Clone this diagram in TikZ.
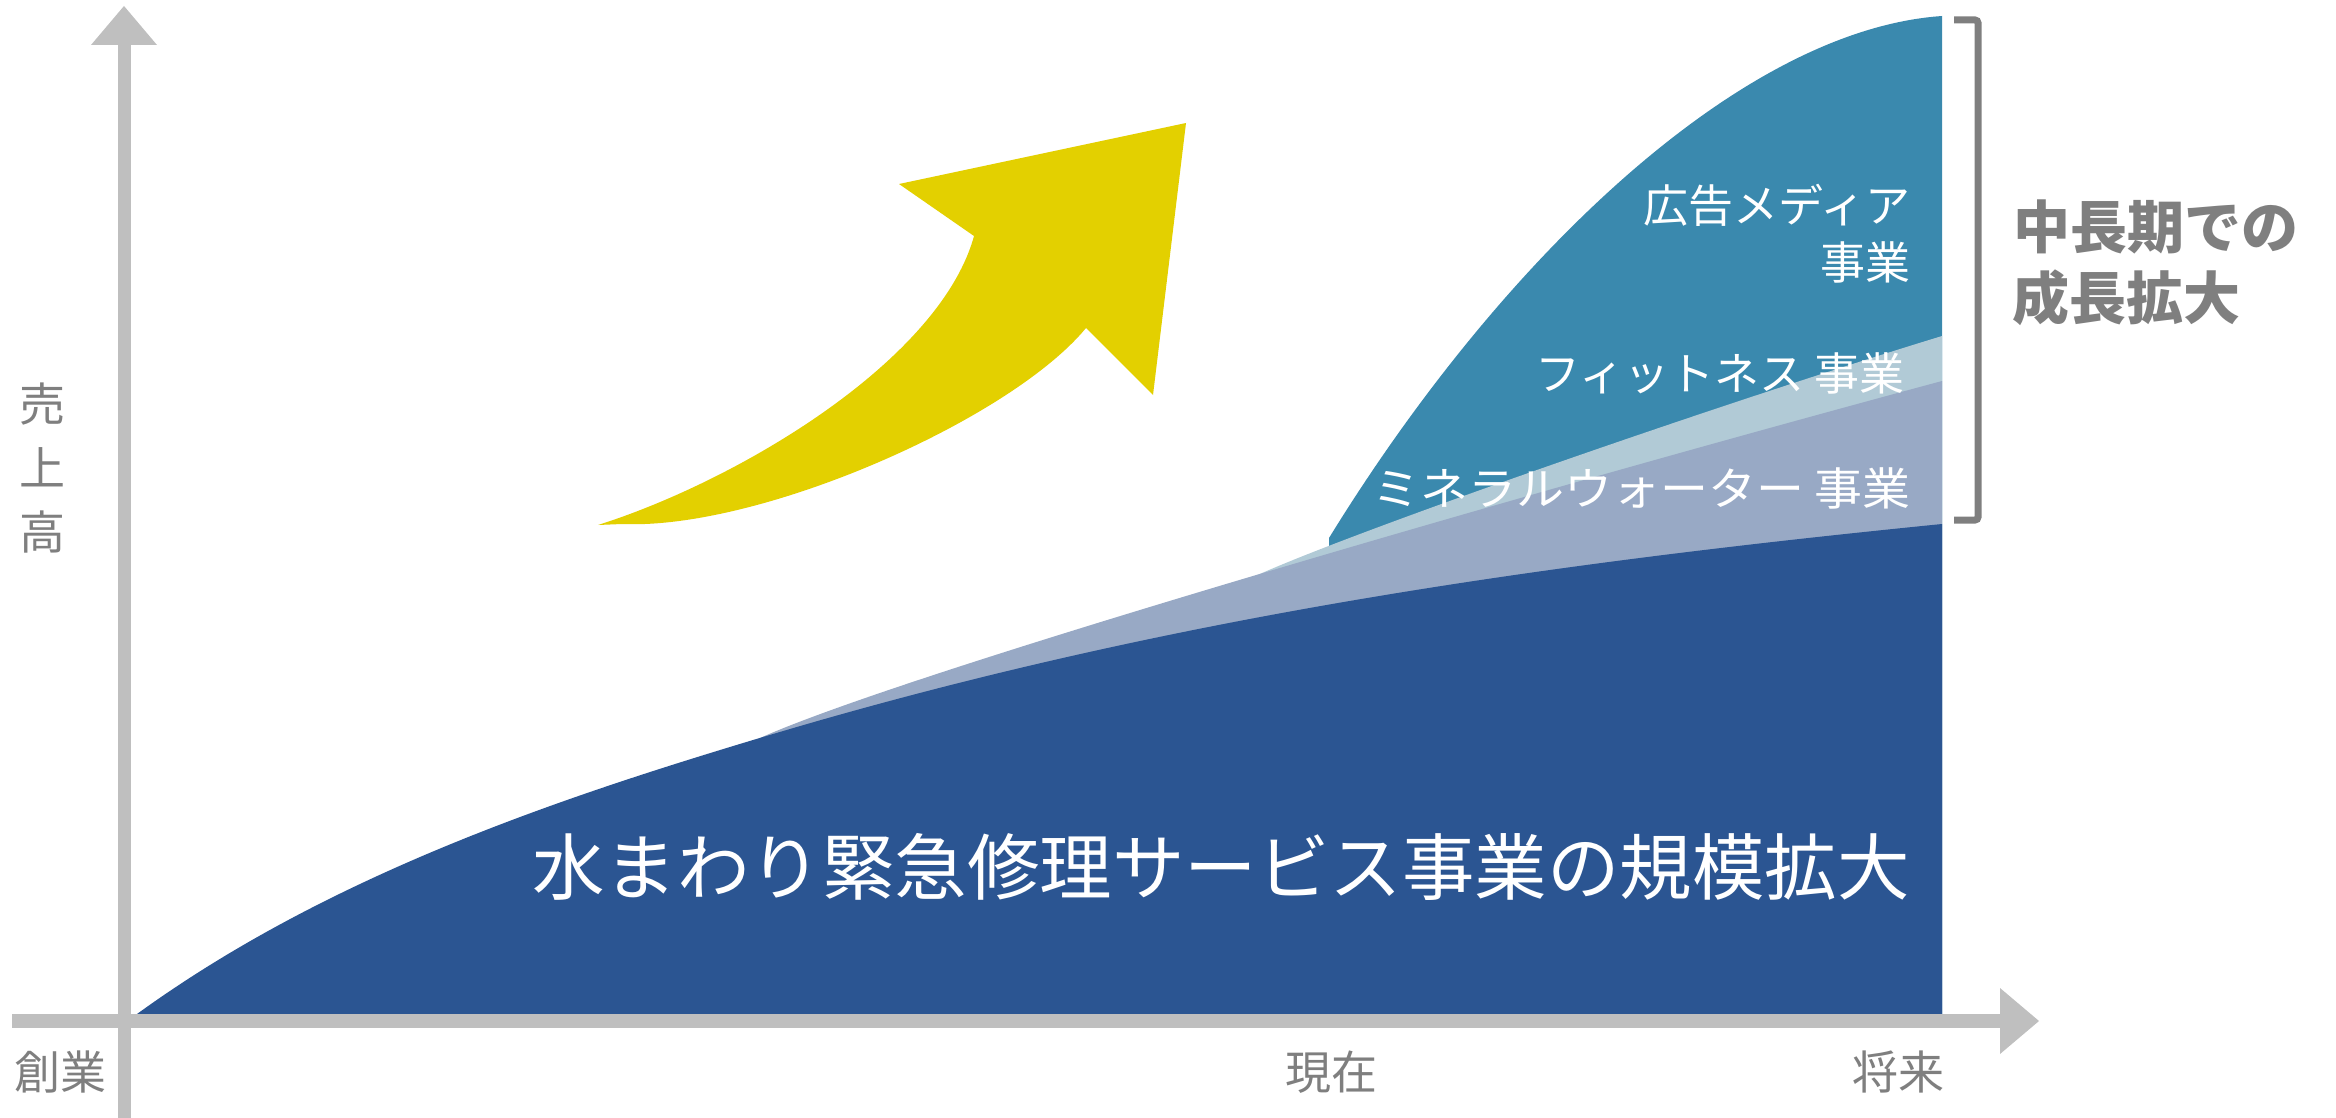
\documentclass[tikz,border=0pt]{standalone}
\usepackage{fontspec}
\newfontfamily\jp{Noto Sans CJK JP}
\newcommand\jpsz[1]{\fontsize{#1}{#1}\selectfont}
\definecolor{darkblue}{HTML}{2B5592}
\definecolor{tealb}{HTML}{3A89AE}
\definecolor{lightb}{HTML}{B1CAD6}
\definecolor{mineralb}{HTML}{98A9C5}
\definecolor{yell}{HTML}{E3D000}
\definecolor{axisg}{HTML}{BFBFBF}
\definecolor{textg}{HTML}{7F7F7F}
\begin{document}
\begin{tikzpicture}[x=1pt,y=-1pt,
  wlabel/.style={inner sep=0pt, text=white, font=\jp\jpsz{45}},
  glabel/.style={inner sep=0pt, text=textg, font=\jp\jpsz{46}},
  blabel/.style={inner sep=0pt, text=textg, font=\jp\bfseries\jpsz{57}}]
\useasboundingbox (0,0) rectangle (2336,1118);
% teal layer
\fill[tealb] (1329,538) .. controls (1500,260) and (1740,30) .. (1942,16)
  -- (1942,1014) -- (1329,1014) -- cycle;
% fitness layer
\fill[lightb] (1249,579) .. controls (1330,540) and (1700,410) .. (1942,336)
  -- (1942,1014) -- (1249,1014) -- cycle;
% mineral layer
\fill[mineralb] (760,738) .. controls (900,675) and (1500,500) .. (1942,381)
  -- (1942,1014) -- (760,1014) -- cycle;
% main layer
\fill[darkblue] (137,1014) .. controls (330,874) and (563,797) .. (763,737)
  .. controls (1163,617) and (1542,564) .. (1942,524)
  -- (1942,1014) -- cycle;
% yellow arrow
\fill[yell] (598,525) .. controls (740,480) and (940,360) .. (974,236)
  -- (899,184) -- (1186,123) -- (1153,395) -- (1086,328)
  .. controls (1010,420) and (760,530) .. (622,524) -- cycle;
% axes
\draw[axisg, line width=13pt] (124,1118) -- (124,44);
\fill[axisg] (91,45) -- (157,45) -- (124,6) -- cycle;
\draw[axisg, line width=14pt] (12,1021) -- (2001,1021);
\fill[axisg] (2000,988) -- (2000,1054) -- (2039,1021) -- cycle;
% bracket
\draw[textg, line width=7pt, rounded corners=3pt] (1954,20) -- (1978,20) -- (1978,520) -- (1954,520);
% texts
\node[inner sep=0pt, text=white, font=\jp\jpsz{72.5}, anchor=east] (main) at (1910,867) {水まわり緊急修理サービス事業の規模拡大};
\node[wlabel, anchor=east] (ad1) at (1911,205) {広告メディア};
\node[wlabel, anchor=east] (ad2) at (1911,262) {事業};
\node[wlabel, anchor=east] (fit) at (1905,373) {フィットネス 事業};
\node[wlabel, anchor=east] (min) at (1911,488) {\scalebox{1.066}[1]{ミネラルウォーター 事業}};
\node[blabel, anchor=west] (g1) at (2013,227) {中長期での};
\node[blabel, anchor=west] (g2) at (2012,298) {成長拡大};
\node[glabel] (y1) at (42,404) {売};
\node[glabel] (y2) at (42,467) {上};
\node[glabel] (y3) at (42,532) {高};
\node[glabel] (x1) at (60,1072) {創業};
\node[glabel] (x2) at (1331,1072) {現在};
\node[glabel] (x3) at (1898,1072) {将来};
\end{tikzpicture}
\end{document}
